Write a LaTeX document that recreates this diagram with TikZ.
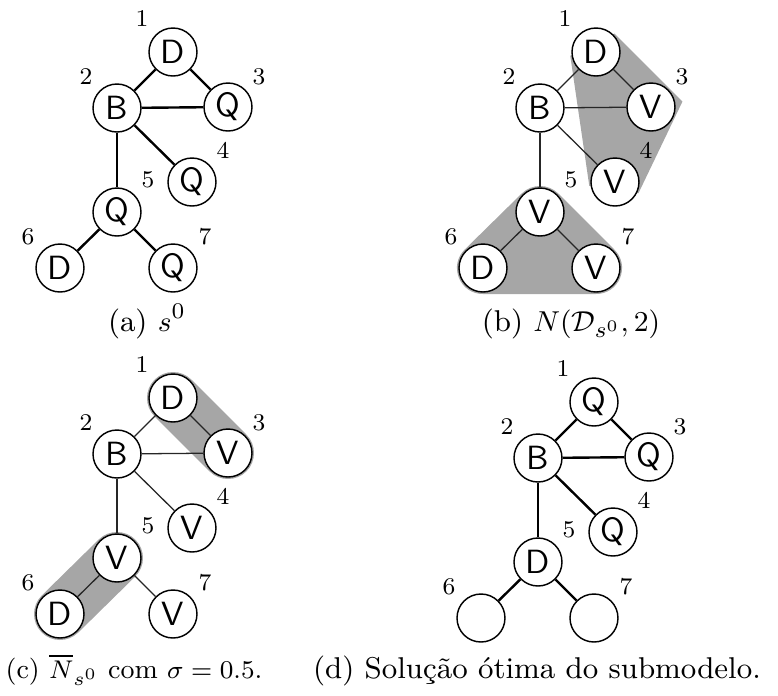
\documentclass[tikz,border=0pt]{standalone}
\usepackage{fontspec}
\usetikzlibrary{calc}
\pgfdeclarelayer{background}
\pgfsetlayers{background,main}

% one unit = one pixel of the 778 x 695 layout, y grows downwards
\tikzset{
  x=0.3125pt, y=-0.3125pt,
  vtx/.style={circle, draw=black, line width=0.45pt, fill=white,
    minimum size=15pt, inner sep=0pt,
    font=\sffamily\fontsize{10.5}{11}\selectfont},
  numlbl/.style={inner sep=0pt, font=\fontsize{7.5}{8}\selectfont},
  boldedge/.style={line width=0.75pt},
  thinedge/.style={line width=0.4pt, draw=black!85},
  grayhull/.style={draw=black!35, fill=black!35, line width=16.25pt,
    line join=round, line cap=round},
  sharphull/.style={grayhull, line join=miter, miter limit=2},
  captxt/.style={anchor=base, inner sep=0pt, font=\fontsize{9.4}{11}\selectfont},
}

% #1 name prefix, #2-#8 letters of vertices 1-7, #9 edge style
\newcommand\drawpanel[9]{%
  \node[vtx] (#1n1) at (173,52)  {#2};
  \node[vtx] (#1n2) at (117,108) {#3};
  \node[vtx] (#1n3) at (228,107) {#4};
  \node[vtx] (#1n4) at (192,182) {#5};
  \node[vtx] (#1n5) at (117,212) {#6};
  \node[vtx] (#1n6) at (60,268)  {#7};
  \node[vtx] (#1n7) at (173,268) {#8};
  \node[numlbl] (#1l1) at (142,19)  {1};
  \node[numlbl] (#1l2) at (86,77)   {2};
  \node[numlbl] (#1l3) at (259,77)  {3};
  \node[numlbl] (#1l4) at (223,150) {4};
  \node[numlbl] (#1l5) at (148,180) {5};
  \node[numlbl] (#1l6) at (28,237)  {6};
  \node[numlbl] (#1l7) at (205,237) {7};
  \draw[#9] (#1n1) -- (#1n2);
  \draw[#9] (#1n1) -- (#1n3);
  \draw[#9] (#1n2) -- (#1n3);
  \draw[#9] (#1n2) -- (#1n4);
  \draw[#9] (#1n2) -- (#1n5);
  \draw[#9] (#1n5) -- (#1n6);
  \draw[#9] (#1n5) -- (#1n7);
}

\begin{document}
\begin{tikzpicture}
\useasboundingbox (0,0) rectangle (778,695);

% (a) initial solution
\begin{scope}
  \drawpanel{a}{D}{B}{Q}{Q}{Q}{D}{Q}{boldedge}
\end{scope}

% (b) neighbourhood of the destroyed set
\begin{scope}[shift={(423,0)}]
  \drawpanel{b}{D}{B}{V}{V}{V}{D}{V}{thinedge}
\end{scope}
\begin{pgfonlayer}{background}
  \draw[sharphull] (bn1.center) -- (bn3.center) -- (bn4.center) -- cycle;
  \draw[grayhull] (bn5.center) -- (bn6.center) -- (bn7.center) -- cycle;
\end{pgfonlayer}

% (c) sampled neighbourhood
\begin{scope}[shift={(0,346)}]
  \drawpanel{c}{D}{B}{V}{V}{V}{D}{V}{thinedge}
\end{scope}
\begin{pgfonlayer}{background}
  \draw[grayhull] (cn1.center) -- (cn3.center);
  \draw[grayhull] (cn5.center) -- (cn6.center);
\end{pgfonlayer}

% (d) optimal solution of the submodel
\begin{scope}[shift={(421,350)}]
  \drawpanel{d}{Q}{B}{Q}{Q}{D}{}{}{boldedge}
\end{scope}

% captions
\node[captxt] (capa) at (147,331) {(a) $s^0$};
\node[captxt] (capb) at (571,331) {(b) $N(\mathcal{D}_{s^0},2)$};
\node[captxt, anchor=base west, font=\fontsize{8.5}{10}\selectfont] (capc) at (5,678)
  {(c) $\overline{N}_{s^0}$ com $\sigma=0.5$.};
\node[captxt] (capd) at (537,678) {(d) Solução ótima do submodelo.};
\end{tikzpicture}
\end{document}
